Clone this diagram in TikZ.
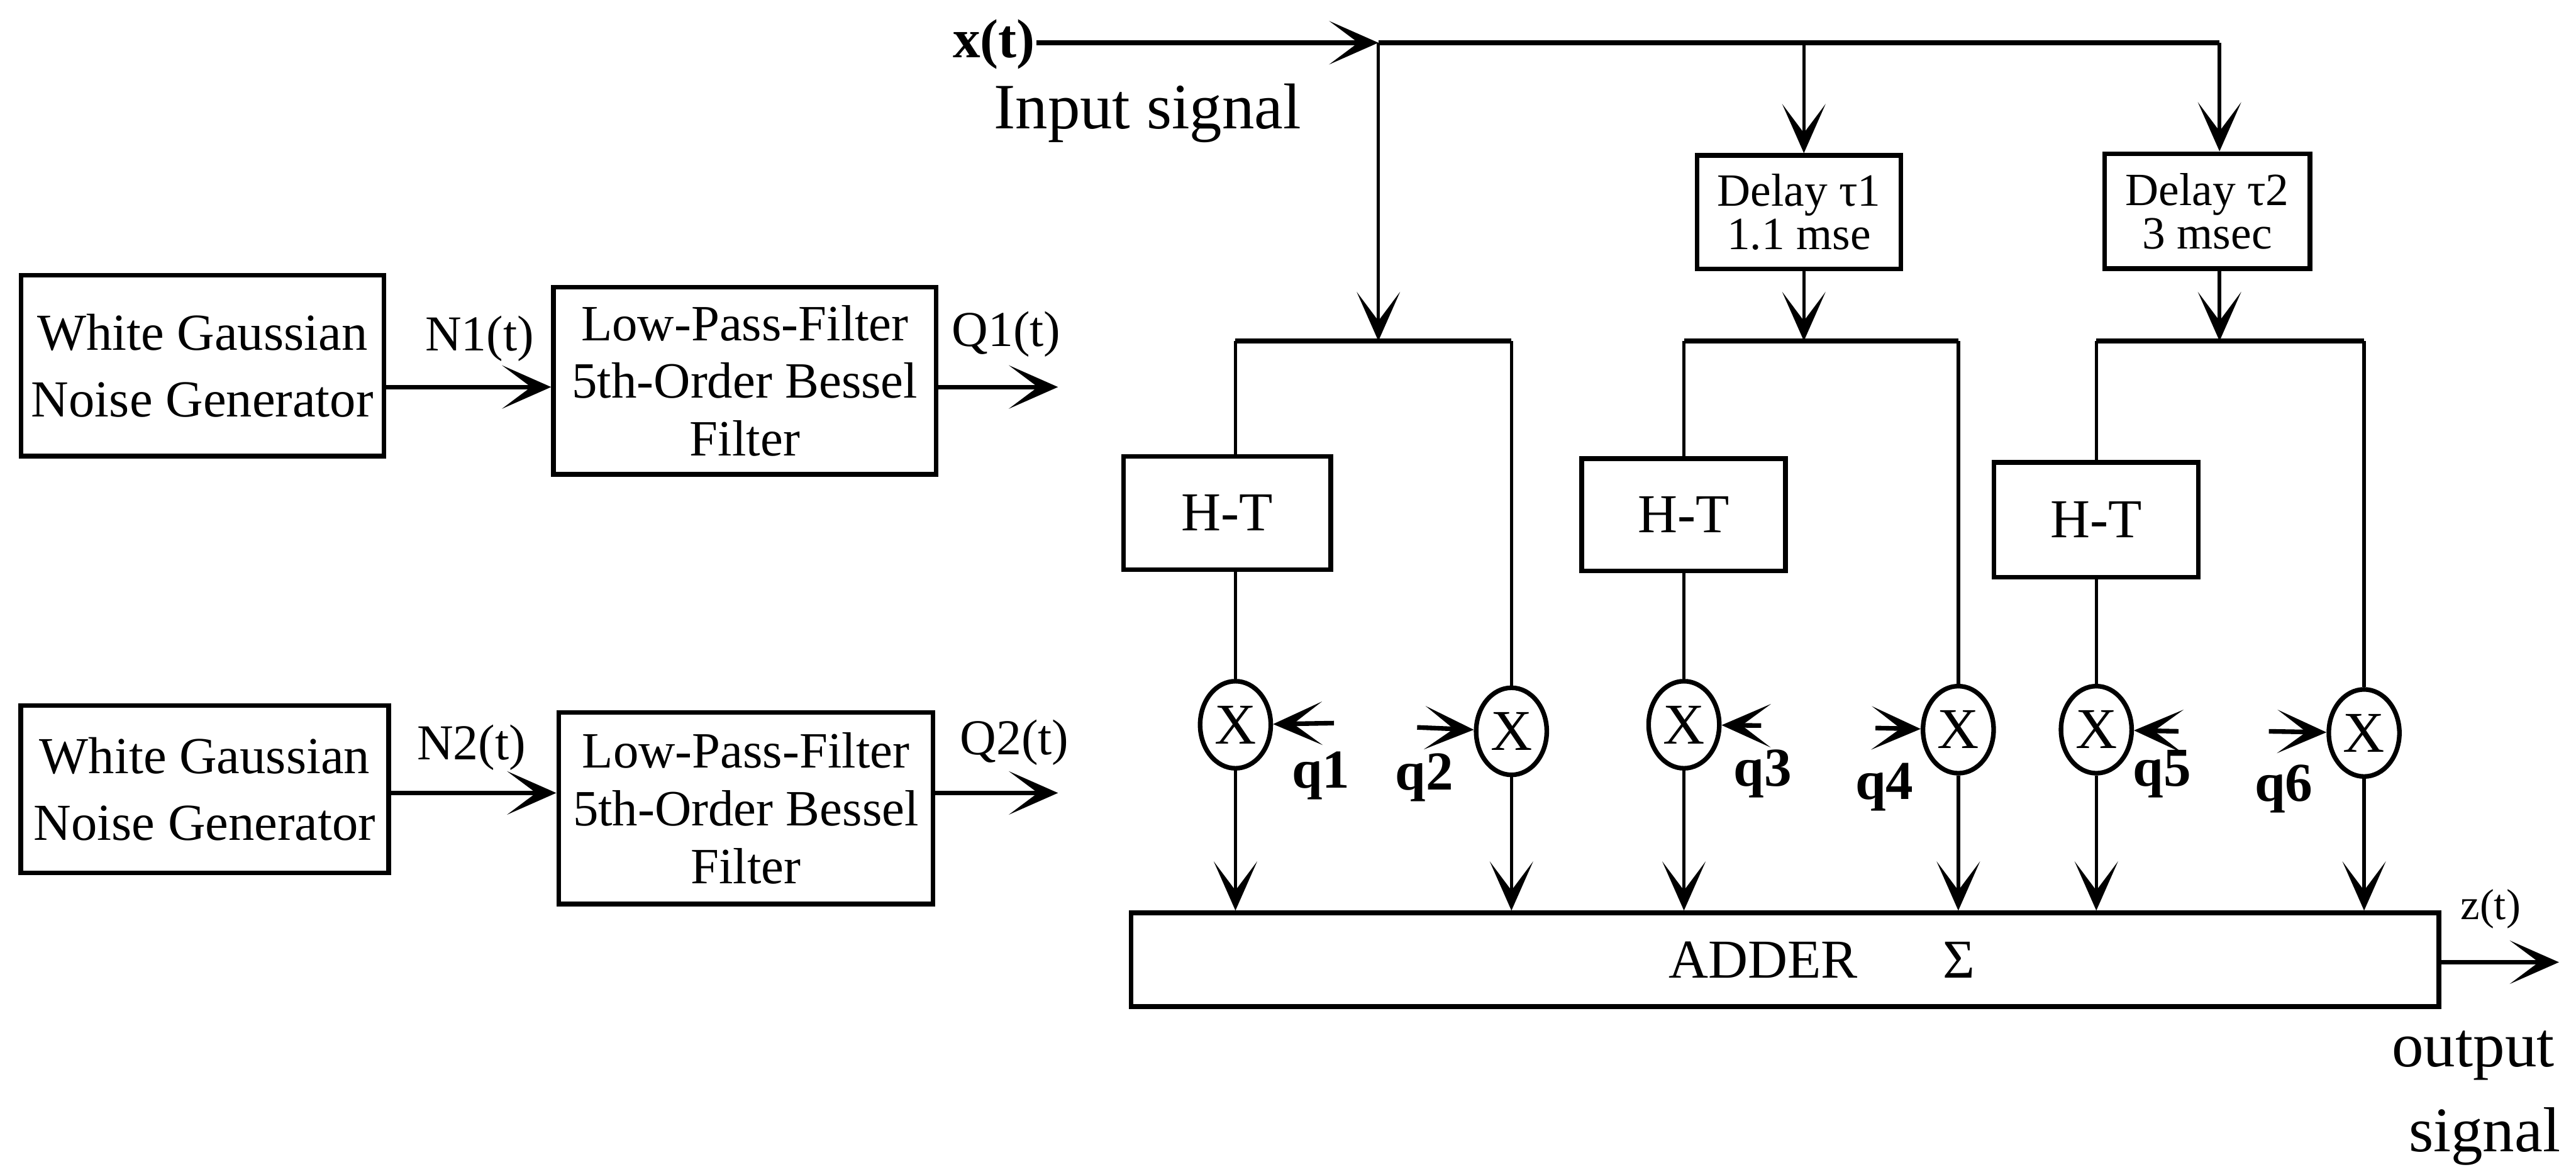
\documentclass[tikz,border=0pt]{standalone}
\usepackage{fontspec}
\setmainfont{Liberation Serif}
\usepackage{tikz}
\usetikzlibrary{arrows.meta, positioning, shapes.geometric, calc}

\begin{document}
\begin{tikzpicture}[
  x=1cm, y=-1cm,
  >={Stealth[length=8.5pt, width=7.5pt, inset=5pt]},
  blk/.style={rectangle, draw=black, thick, inner sep=0pt, align=center},
  mul/.style={ellipse, draw=black, thick, minimum width=0.43cm, minimum height=0.53cm, inner sep=0pt, font=\fontsize{10}{10}\selectfont},
  lbl/.style={inner sep=0pt, font=\fontsize{8.7}{9}\selectfont},
  qlbl/.style={inner sep=0pt, font=\fontsize{9.5}{10}\selectfont\bfseries},
  sig/.style={->, thick},
  dsig/.style={->, semithick},
  wire/.style={semithick}
]
  \useasboundingbox (0,0) rectangle (15.68,7.10);

  % noise generators and filters
  \node[blk, minimum width=2.21cm, minimum height=1.10cm, font=\fontsize{9}{11.5}\selectfont] (wgn1) at (1.232,2.225) {White Gaussian\\Noise Generator};
  \node[blk, minimum width=2.33cm, minimum height=1.14cm, font=\fontsize{8.8}{10}\selectfont] (lpf1) at (4.534,2.317) {Low-Pass-Filter\\5th-Order Bessel\\Filter};
  \node[blk, minimum width=2.24cm, minimum height=1.02cm, font=\fontsize{9}{11.5}\selectfont] (wgn2) at (1.246,4.802) {White Gaussian\\Noise Generator};
  \node[blk, minimum width=2.28cm, minimum height=1.165cm, font=\fontsize{8.8}{10}\selectfont] (lpf2) at (4.54,4.918) {Low-Pass-Filter\\5th-Order Bessel\\Filter};

  \coordinate (q1out) at (6.44,2.355);
  \coordinate (q2out) at (6.44,4.825);
  \draw[sig] (wgn1.east |- q1out) -- (lpf1.west |- q1out);
  \draw[sig] (lpf1.east |- q1out) -- (q1out);
  \draw[sig] (wgn2.east |- q2out) -- (lpf2.west |- q2out);
  \draw[sig] (lpf2.east |- q2out) -- (q2out);
  \node[lbl] (n1lab) at (2.92,2.06) {N1(t)};
  \node[lbl] (q1lab) at (6.125,2.035) {Q1(t)};
  \node[lbl] (n2lab) at (2.87,4.55) {N2(t)};
  \node[lbl] (q2lab) at (6.175,4.52) {Q2(t)};

  % input signal and delay lines
  \node[inner sep=0pt, font=\fontsize{9.5}{10}\selectfont\bfseries] (xin) at (6.05,0.27) {x(t)};
  \node[inner sep=0pt, font=\fontsize{11.2}{12}\selectfont] (insig) at (6.985,0.69) {Input signal};
  \coordinate (split) at (8.39,0.26);
  \coordinate (tap1) at (10.98,0.26);
  \coordinate (tap2) at (13.51,0.26);
  \draw[sig] (xin.east |- split) -- (split);
  \draw[thick] (split) -- (tap2);

  \node[blk, minimum width=1.24cm, minimum height=0.69cm, font=\fontsize{8}{7.5}\selectfont] (dly1) at (10.95,1.291) {Delay τ1\\1.1 mse};
  \node[blk, minimum width=1.25cm, minimum height=0.70cm, font=\fontsize{8}{7.5}\selectfont] (dly2) at (13.435,1.285) {Delay τ2\\3 msec};
  \draw[dsig] (tap1) -- (tap1 |- dly1.north);
  \draw[dsig] (tap2) -- (tap2 |- dly2.north);

  \coordinate (bar1) at (8.39,2.075);
  \coordinate (bar2) at (10.98,2.075);
  \coordinate (bar3) at (13.51,2.075);
  \draw[dsig] (split) -- (bar1);
  \draw[dsig] (bar2 |- dly1.south) -- (bar2);
  \draw[dsig] (bar3 |- dly2.south) -- (bar3);

  % Hilbert transformers and multipliers
  \node[blk, minimum width=1.26cm, minimum height=0.69cm, font=\fontsize{9.5}{10}\selectfont] (ht1) at (7.47,3.121) {H-T};
  \node[blk, minimum width=1.24cm, minimum height=0.684cm, font=\fontsize{9.5}{10}\selectfont] (ht2) at (10.248,3.132) {H-T};
  \node[blk, minimum width=1.242cm, minimum height=0.70cm, font=\fontsize{9.5}{10}\selectfont] (ht3) at (12.759,3.163) {H-T};

  \node[mul] (c1) at (7.52,4.41) {X};
  \node[mul] (c2) at (9.20,4.45) {X};
  \node[mul] (c3) at (10.25,4.41) {X};
  \node[mul] (c4) at (11.92,4.44) {X};
  \node[mul] (c5) at (12.76,4.44) {X};
  \node[mul] (c6) at (14.39,4.46) {X};

  \draw[thick] (bar1 -| c1.north) -- (bar1 -| c2.north);
  \draw[thick] (bar2 -| c3.north) -- (bar2 -| c4.north);
  \draw[thick] (bar3 -| c5.north) -- (bar3 -| c6.north);
  \draw[wire] (bar1 -| c1.north) -- (c1.north |- ht1.north);
  \draw[wire] (bar2 -| c3.north) -- (c3.north |- ht2.north);
  \draw[wire] (bar3 -| c5.north) -- (c5.north |- ht3.north);
  \draw[wire] (bar1 -| c2.north) -- (c2.north);
  \draw[wire] (bar2 -| c4.north) -- (c4.north);
  \draw[wire] (bar3 -| c6.north) -- (c6.north);
  \draw[wire] (c1.north |- ht1.south) -- (c1.north);
  \draw[wire] (c3.north |- ht2.south) -- (c3.north);
  \draw[wire] (c5.north |- ht3.south) -- (c5.north);

  % weights
  \coordinate (q1in) at (8.12,4.40);
  \coordinate (q2in) at (8.626,4.426);
  \coordinate (q3in) at (10.72,4.415);
  \coordinate (q4in) at (11.416,4.43);
  \coordinate (q5in) at (13.26,4.45);
  \coordinate (q6in) at (13.81,4.45);
  \draw[sig] (q1in) -- (c1);
  \draw[sig] (q2in) -- (c2);
  \draw[sig] (q3in) -- (c3);
  \draw[sig] (q4in) -- (c4);
  \draw[sig] (q5in) -- (c5);
  \draw[sig] (q6in) -- (c6);
  \node[qlbl] (q1) at (8.04,4.72) {q1};
  \node[qlbl] (q2) at (8.67,4.73) {q2};
  \node[qlbl] (q3) at (10.73,4.71) {q3};
  \node[qlbl] (q4) at (11.47,4.79) {q4};
  \node[qlbl] (q5) at (13.16,4.71) {q5};
  \node[qlbl] (q6) at (13.90,4.80) {q6};

  % adder and output
  \node[blk, minimum width=7.96cm, minimum height=0.57cm, font=\fontsize{9.5}{10}\selectfont] (adder) at (10.865,5.84) {\hspace*{4.5mm}ADDER\hspace{5.2mm}Σ};
  \draw[dsig] (c1.south) -- (c1.south |- adder.north);
  \draw[dsig] (c2.south) -- (c2.south |- adder.north);
  \draw[dsig] (c3.south) -- (c3.south |- adder.north);
  \draw[dsig] (c4.south) -- (c4.south |- adder.north);
  \draw[dsig] (c5.south) -- (c5.south |- adder.north);
  \draw[dsig] (c6.south) -- (c6.south |- adder.north);

  \coordinate (zout) at (15.576,5.855);
  \draw[sig] (adder.east |- zout) -- (zout);
  \node[inner sep=0pt, font=\fontsize{7.5}{8}\selectfont] (zlab) at (15.16,5.53) {z(t)};
  \node[inner sep=0pt, anchor=base east, font=\fontsize{11}{12}\selectfont] (outlab) at (15.555,6.49) {output};
  \node[inner sep=0pt, anchor=base east, font=\fontsize{11}{12}\selectfont] (siglab) at (15.592,7.006) {signal};
\end{tikzpicture}
\end{document}
